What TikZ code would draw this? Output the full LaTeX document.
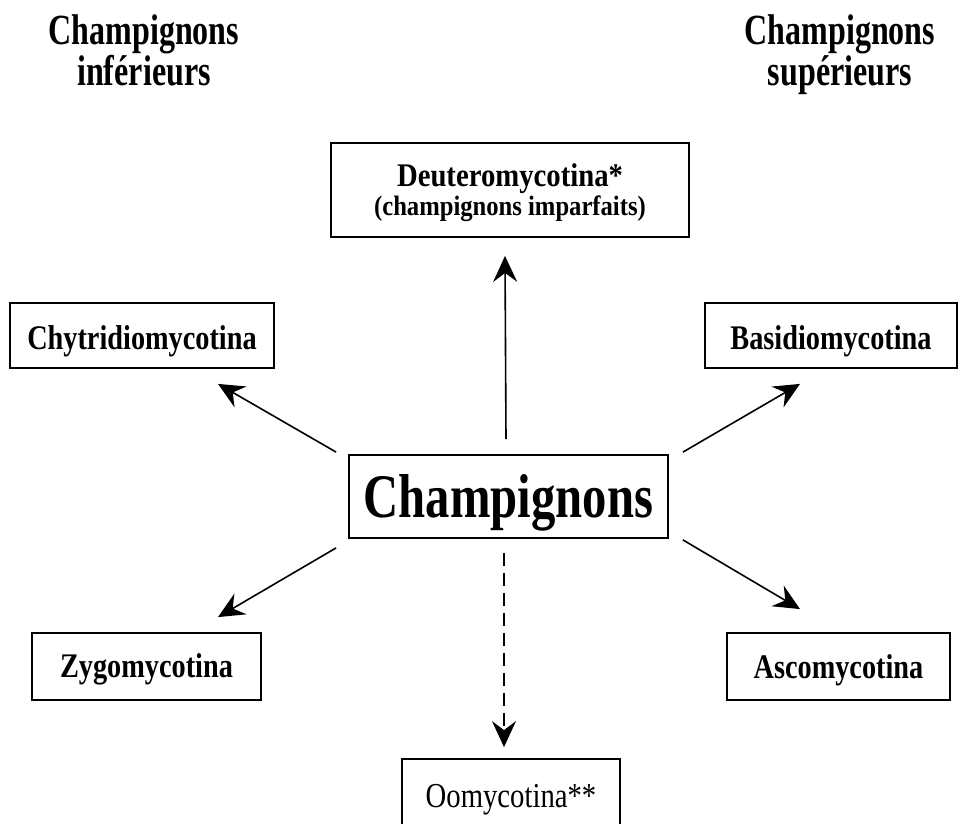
\documentclass[tikz,border=0pt]{standalone}
\usepackage{fontspec}
\setmainfont{Liberation Serif}
\newfontfamily\fA{Liberation Serif}[FakeStretch=0.82]
\newfontfamily\fH{Liberation Serif}[FakeStretch=0.745]
\newfontfamily\fB{Liberation Serif}[FakeStretch=0.785]
\newfontfamily\fD{Liberation Serif}[FakeStretch=0.87]
\newfontfamily\fE{Liberation Serif}[FakeStretch=0.88]
\usetikzlibrary{arrows.meta}
\begin{document}
\begin{tikzpicture}[x=1pt,y=-1pt,
  box/.style={draw, line width=1.8pt, inner sep=0pt, align=center},
  subbox/.style={box, font=\fA\bfseries\fontsize{34.5}{36}\selectfont},
  head/.style={align=center, inner sep=0pt, anchor=north, font=\fH\bfseries\fontsize{43}{41}\selectfont},
  arr/.style={line width=1.6pt, -{Stealth[length=26pt,width=24pt,inset=9pt]}},
  darr/.style={arr, dash pattern=on 13pt off 7pt}]
\useasboundingbox (0,0) rectangle (959,824);
\clip (0,0) rectangle (959,824);

% headings
\node[head] (hl) at (144,14) {Champignons\\inférieurs};
\node[head] (hr) at (840,14) {Champignons\\supérieurs};

% boxes
\node[box, minimum width=358pt, minimum height=94pt,
      font=\fE\bfseries\fontsize{28}{29}\selectfont] (deut) at (510,190)
  {{\fD\fontsize{33}{29}\selectfont\rule{0pt}{29pt}Deuteromycotina*}\\(champignons imparfaits)};
\node[box, minimum width=319pt, minimum height=83pt, text height=43pt, text depth=2pt,
      font=\fB\bfseries\fontsize{62}{62}\selectfont] (champ) at (508.5,496.5) {Champignons};
\node[subbox, minimum width=264pt, minimum height=65pt, text height=30pt, text depth=3pt] (chyt) at (142,335.5) {Chytridiomycotina};
\node[subbox, minimum width=252pt, minimum height=65pt, text height=30pt, text depth=3pt] (basid) at (831,335.5) {Basidiomycotina};
\node[subbox, minimum width=229pt, minimum height=67pt, text height=27pt, text depth=6pt] (zygo) at (146.5,666.5) {Zygomycotina};
\node[subbox, minimum width=223pt, minimum height=67pt, text height=28pt, text depth=5pt] (asco) at (838.5,666.5) {Ascomycotina};
\node[box, minimum width=218pt, minimum height=70pt, text height=30pt, text depth=4pt,
      font=\fA\fontsize{35}{36}\selectfont] (oomy) at (511,794) {Oomycotina**};

% connectors
\draw[arr] ([shift={(-2.5,-15)}]champ.north) -- ([shift={(-5,18)}]deut.south);
\draw[arr] ([shift={(-12,-2)}]champ.north west) -- ([shift={(76,15)}]chyt.south);
\draw[arr] ([shift={(14,-2)}]champ.north east) -- ([shift={(-31,15)}]basid.south);
\draw[arr] ([shift={(-12,9)}]champ.south west) -- ([shift={(71.5,-15)}]zygo.north);
\draw[arr] ([shift={(14,1)}]champ.south east) -- ([shift={(-38.5,-23)}]asco.north);
\draw[darr] ([shift={(-4.5,14)}]champ.south) -- ([shift={(-7,-11)}]oomy.north);
\end{tikzpicture}
\end{document}
